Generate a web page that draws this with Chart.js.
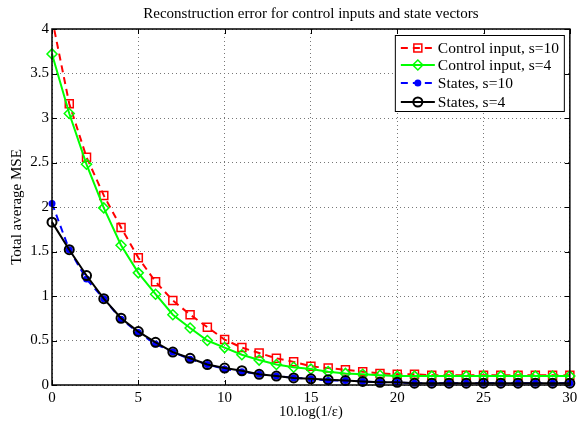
<!DOCTYPE html>
<html><head><meta charset="utf-8">
<script src="https://cdn.jsdelivr.net/npm/chart.js@4/dist/chart.umd.min.js"></script>
<style>html,body{margin:0;padding:0;background:#fff;}#wrap{width:577px;height:424px;}</style>
</head><body><div id="wrap"><canvas id="c" width="577" height="424"></canvas></div>
<script>
const xValues = [0,1,2,3,4,5,6,7,8,9,10,11,12,13,14,15,16,17,18,19,20,21,22,23,24,25,26,27,28,29,30];
const controlS10 = [4.12,3.16,2.56,2.13,1.77,1.43,1.16,0.95,0.79,0.65,0.51,0.42,0.36,0.30,0.26,0.21,0.19,0.17,0.15,0.13,0.12,0.12,0.11,0.11,0.11,0.11,0.11,0.11,0.11,0.11,0.11];
const controlS4 = [3.72,3.05,2.48,1.99,1.57,1.26,1.02,0.79,0.64,0.50,0.42,0.34,0.28,0.23,0.20,0.18,0.15,0.13,0.12,0.11,0.10,0.10,0.10,0.10,0.10,0.10,0.10,0.10,0.10,0.10,0.10];
const statesS10 = [2.04,1.52,1.19,0.97,0.74,0.59,0.46,0.37,0.29,0.23,0.18,0.15,0.12,0.10,0.08,0.07,0.05,0.05,0.04,0.03,0.03,0.02,0.02,0.02,0.02,0.02,0.02,0.02,0.02,0.02,0.02];
const statesS4 = [1.83,1.52,1.23,0.97,0.75,0.60,0.48,0.37,0.30,0.23,0.19,0.16,0.12,0.10,0.08,0.07,0.06,0.05,0.04,0.03,0.03,0.02,0.02,0.02,0.02,0.02,0.02,0.02,0.02,0.02,0.02];
const xTicks = [0,5,10,15,20,25,30];
const yTicks = [0,0.5,1,1.5,2,2.5,3,3.5,4];
const seriesNames = ['Control input, s=10','Control input, s=4','States, s=10','States, s=4'];

const SERIF = "'Liberation Serif','DejaVu Serif',serif";
const toPts = arr => arr.map((v,i)=>({x:xValues[i], y:v}));
const clipTop = {left:false, right:false, bottom:false, top:0};

const styles = [
  {color:'#ff0000', dash:[7,5], shape:'square', fill:false, r:4},
  {color:'#00ff00', dash:[], shape:'diamond', fill:false, r:5},
  {color:'#0000ff', dash:[7,5], shape:'circle', fill:true, r:3.5},
  {color:'#000000', dash:[], shape:'circle', fill:false, r:4.5}
];

function drawMarker(ctx, shape, x, y, r, color, fill, lw){
  ctx.save();
  ctx.setLineDash([]);
  ctx.strokeStyle = color; ctx.fillStyle = color; ctx.lineWidth = lw;
  ctx.beginPath();
  if (shape==='square') ctx.rect(x-r, y-r, 2*r, 2*r);
  else if (shape==='diamond'){ ctx.moveTo(x, y-r); ctx.lineTo(x+r, y); ctx.lineTo(x, y+r); ctx.lineTo(x-r, y); ctx.closePath(); }
  else ctx.arc(x, y, r, 0, Math.PI*2);
  if (fill) ctx.fill(); else ctx.stroke();
  ctx.restore();
}

const framePlugin = {
  id:'frame',
  afterDatasetsDraw(chart){
    const {ctx, chartArea:a, scales:{x, y}} = chart;
    ctx.save();
    ctx.strokeStyle = '#000'; ctx.lineWidth = 1; ctx.setLineDash([]);
    ctx.beginPath();
    xTicks.forEach(v=>{ const px = Math.round(x.getPixelForValue(v))+0.5;
      ctx.moveTo(px, a.bottom); ctx.lineTo(px, a.bottom-5);
      ctx.moveTo(px, a.top); ctx.lineTo(px, a.top+5); });
    yTicks.forEach(v=>{ const py = Math.round(y.getPixelForValue(v))+0.5;
      ctx.moveTo(a.left, py); ctx.lineTo(a.left+5, py);
      ctx.moveTo(a.right, py); ctx.lineTo(a.right-5, py); });
    ctx.stroke();
    ctx.lineWidth = 1.5;
    ctx.strokeRect(a.left, a.top, a.right-a.left, a.bottom-a.top);
    ctx.restore();
  },
  afterDraw(chart){
    const {ctx, chartArea:a} = chart;
    const bx = a.right-175, by = a.top+6, bw = 169, bh = 76;
    ctx.save();
    ctx.fillStyle = '#fff'; ctx.fillRect(bx, by, bw, bh);
    ctx.strokeStyle = '#000'; ctx.lineWidth = 1; ctx.strokeRect(bx+0.5, by+0.5, bw, bh);
    const rows = [by+13, by+30, by+48, by+67];
    chart.data.datasets.forEach((ds, i)=>{
      const st = styles[i], ry = rows[i];
      ctx.save();
      ctx.strokeStyle = st.color; ctx.lineWidth = 2; ctx.setLineDash(st.dash);
      ctx.beginPath(); ctx.moveTo(bx+6, ry); ctx.lineTo(bx+40, ry); ctx.stroke();
      ctx.restore();
      drawMarker(ctx, st.shape, bx+23, ry, st.r, st.color, st.fill, st.shape==='circle'?2:1.5);
      ctx.fillStyle = '#000'; ctx.font = "15.5px "+SERIF; ctx.textBaseline='middle'; ctx.textAlign='left';
      ctx.fillText(ds.label, bx+43, ry+1);
    });
    ctx.restore();
  }
};

const datasets = [controlS10, controlS4, statesS10, statesS4].map((arr, i)=>{
  const st = styles[i];
  const ps = st.shape==='square' ? 'rect' : st.shape==='diamond' ? 'rectRot' : 'circle';
  const rad = st.shape==='square' ? st.r*Math.SQRT2 : st.r;
  return {
    label: seriesNames[i],
    data: toPts(arr),
    borderColor: st.color,
    borderWidth: 2,
    borderDash: st.dash,
    backgroundColor: st.fill ? st.color : 'rgba(0,0,0,0)',
    pointStyle: ps,
    pointRadius: rad,
    pointHoverRadius: rad,
    pointBorderWidth: st.shape==='circle' && !st.fill ? 2 : (st.fill ? 0 : 1.5),
    pointBorderColor: st.color,
    pointBackgroundColor: st.fill ? st.color : 'rgba(0,0,0,0)',
    tension: 0,
    fill: false,
    clip: clipTop,
    order: 4 - i
  };
});

new Chart(document.getElementById('c'), {
  type: 'line',
  data: { datasets },
  plugins: [framePlugin],
  options: {
    responsive: false,
    animation: false,
    devicePixelRatio: 1,
    layout: { padding: {top:0, right:4, bottom:0, left:0} },
    plugins: {
      legend: { display: false },
      tooltip: { enabled: false },
      title: { display: true, text: 'Reconstruction error for control inputs and state vectors',
        color:'#000', font: {family: SERIF, size: 15, weight:'normal', lineHeight:1.1}, padding: {top:5.5, bottom:7}, fullSize: false }
    },
    scales: {
      x: {
        type: 'linear', min: 0, max: 30,
        afterBuildTicks: s => { s.ticks = xTicks.map(v=>({value:v})); },
        afterFit: s => { s.height = 39; s.paddingRight = 0; s.paddingLeft = 0; },
        ticks: { color:'#000', font:{family:SERIF, size:15}, padding:4, maxRotation:0, autoSkip:false, callback: v => String(v) },
        grid: { color:'#777', lineWidth:1, drawTicks:false },
        border: { display:false, dash:[1,3] },
        title: { display:true, text:'10.log(1/\u03b5)', color:'#000', font:{family:SERIF, size:14.5}, padding:{top:0, bottom:3} }
      },
      y: {
        type: 'linear', min: 0, max: 4,
        afterBuildTicks: s => { s.ticks = yTicks.map(v=>({value:v})); },
        afterFit: s => { s.width = 52; },
        ticks: { color:'#000', font:{family:SERIF, size:15}, padding:3, autoSkip:false, callback: v => String(v) },
        grid: { color:'#777', lineWidth:1, drawTicks:false },
        border: { display:false, dash:[1,3] },
        title: { display:true, text:'Total average MSE', color:'#000', font:{family:SERIF, size:15}, padding:{top:8.5, bottom:0} }
      }
    }
  }
});
</script></body></html>
